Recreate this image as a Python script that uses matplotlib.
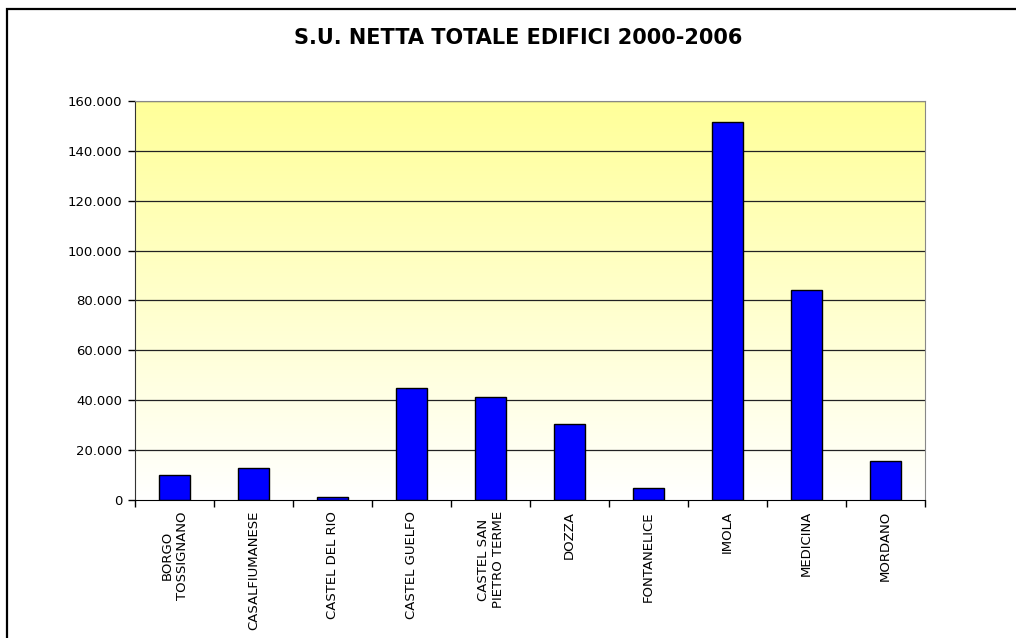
import matplotlib.pyplot as plt
import matplotlib.patches as patches
import numpy as np

comuni = ["BORGO\nTOSSIGNANO", "CASALFIUMANESE", "CASTEL DEL RIO", "CASTEL GUELFO",
          "CASTEL SAN\nPIETRO TERME", "DOZZA", "FONTANELICE", "IMOLA", "MEDICINA", "MORDANO"]
su_netta = [10100, 13000, 1300, 45000, 41500, 30600, 4900, 151700, 84300, 15700]

y_ticks = np.arange(0, 160001, 20000)

fig = plt.figure(figsize=(10.16, 6.38), dpi=100)
ax = fig.add_axes([0.1329, 0.2163, 0.7776, 0.6254])

x = np.arange(len(comuni))
ax.set_xlim(-0.5, len(comuni) - 0.5)
ax.set_ylim(0, 160000)

# yellow-to-white background of the plot area
grad = np.linspace(1, 0, 256).reshape(-1, 1)
top = np.array([1.0, 1.0, 0.6])
bottom = np.array([1.0, 1.0, 1.0])
img = bottom + grad[..., None] * (top - bottom)
ax.imshow(img, extent=[-0.5, len(comuni) - 0.5, 0, 160000], aspect='auto', zorder=0)

for v in y_ticks[1:]:
    ax.axhline(v, color='#222222', lw=0.9, zorder=1)

ax.bar(x, su_netta, width=0.4, color='#0000ff', edgecolor='black', linewidth=1, zorder=2)

ax.set_yticks(y_ticks)
ax.set_yticklabels(["0" if v == 0 else f"{v:,}".replace(",", ".") for v in y_ticks], fontsize=9.5)
ax.tick_params(axis='y', direction='out', length=5, width=1, pad=4)

# ticks between categories, labels at centers
ax.set_xticks(np.arange(-0.5, len(comuni), 1.0))
ax.set_xticklabels([])
ax.tick_params(axis='x', which='major', direction='out', length=5, width=1)
ax.set_xticks(x, minor=True)
ax.set_xticklabels(comuni, minor=True, rotation=90, fontsize=9.5, ha='center', va='top',
                   multialignment='center')
ax.tick_params(axis='x', which='minor', length=0, pad=8)

ax.spines['left'].set_color('#333333')
ax.spines['bottom'].set_color('black')
ax.spines['top'].set_color('#888888')
ax.spines['right'].set_color('#888888')

fig.text(518 / 1016, 1 - 38 / 638, "S.U. NETTA TOTALE EDIFICI 2000-2006", ha='center', va='center',
         fontsize=15, fontweight='bold')

# outer frame of the chart area
fig.patches.append(patches.Rectangle((7 / 1016, -0.1), 1.2, 1 - 9 / 638 + 0.1,
                                     transform=fig.transFigure, fill=False,
                                     edgecolor='black', linewidth=1.6))

fig.savefig("out.png", dpi=100)
